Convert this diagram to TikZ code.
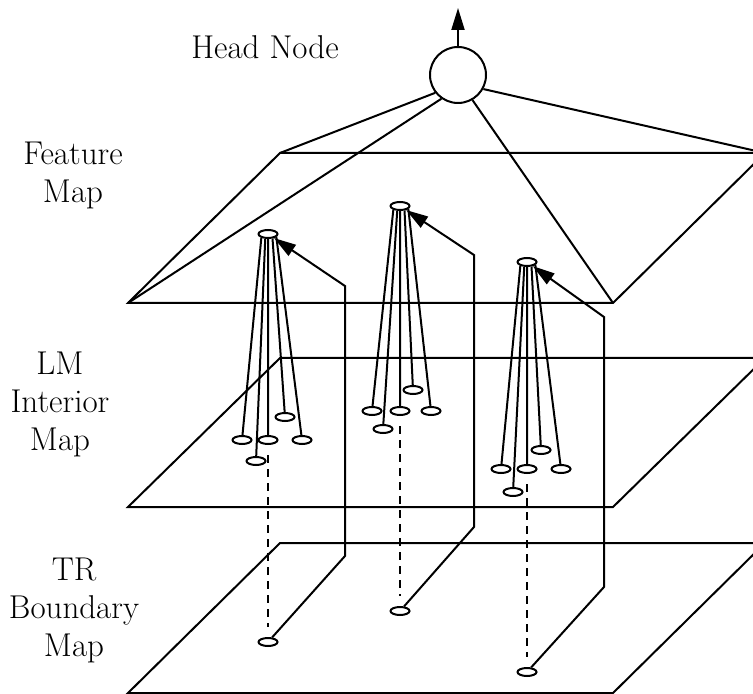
\documentclass[tikz,border=0pt]{standalone}
\usepackage{tikz}
\usetikzlibrary{arrows.meta,shapes.geometric}

\begin{document}
\begin{tikzpicture}[
  x=0.5pt, y=-0.5pt, line width=1pt,
  headnode/.style={circle, draw, minimum size=28pt, inner sep=0pt},
  cell/.style={ellipse, draw, minimum width=9.5pt, minimum height=4pt, inner sep=0pt},
  maplabel/.style={align=center, inner sep=0pt, font=\fontsize{16.5}{19}\selectfont},
  feed/.style={-{Triangle[length=11pt,width=6.5pt]}},
  proj/.style={dash pattern=on 4pt off 3pt, shorten <=5pt, shorten >=5pt}
]
\clip (0,0) rectangle (753,694);
\coordinate (fsw) at (128,303); \coordinate (fse) at (613,303);
\coordinate (fne) at (765,153); \coordinate (fnw) at (280,153);
\coordinate (isw) at (128,507); \coordinate (ise) at (613,507);
\coordinate (ine) at (765,358); \coordinate (inw) at (280,358);
\coordinate (bsw) at (128,693); \coordinate (bse) at (613,693);
\coordinate (bne) at (765,543); \coordinate (bnw) at (280,543);
\draw (fsw) -- (fse) -- (fne) -- (fnw) -- cycle;
\draw (isw) -- (ise) -- (ine) -- (inw) -- cycle;
\draw (bsw) -- (bse) -- (bne) -- (bnw) -- cycle;
\node[maplabel] (headlbl) at (265,47) {Head Node};
\node[maplabel] (featlbl) at (73,175) {Feature\\Map};
\node[maplabel] (intlbl) at (60,404) {LM\\Interior\\Map};
\node[maplabel] (bndlbl) at (74,610) {TR\\Boundary\\Map};
\node[headnode] (head) at (458,75) {};
\coordinate (out) at (458,8);
\node[cell] (f1) at (268,234) {};
\node[cell] (f2) at (400,206) {};
\node[cell] (f3) at (527,262) {};
\node[cell] (l1a) at (242,440) {};
\node[cell] (l1b) at (256,461) {};
\node[cell] (l1c) at (268,440) {};
\node[cell] (l1d) at (285,417) {};
\node[cell] (l1e) at (302,440) {};
\node[cell] (l2a) at (372,411) {};
\node[cell] (l2b) at (383,429) {};
\node[cell] (l2c) at (400,411) {};
\node[cell] (l2d) at (413,390) {};
\node[cell] (l2e) at (431,411) {};
\node[cell] (l3a) at (501,469) {};
\node[cell] (l3b) at (513,492) {};
\node[cell] (l3c) at (527,469) {};
\node[cell] (l3d) at (541,450) {};
\node[cell] (l3e) at (561,469) {};
\node[cell] (b1) at (268,642) {};
\node[cell] (b2) at (400,611) {};
\node[cell] (b3) at (527,672) {};
\draw[feed] (head) -- (out);
\draw (head.218) -- (fnw) (head.235) -- (fsw) (head.-29) -- (fne) (head.-60) -- (fse);
\draw (f1.-150) -- (l1a) (f1.-120) -- (l1b) (f1.-90) -- (l1c) (f1.-45) -- (l1d) (f1.-20) -- (l1e);
\draw (f2.-150) -- (l2a) (f2.-120) -- (l2b) (f2.-90) -- (l2c) (f2.-45) -- (l2d) (f2.-20) -- (l2e);
\draw (f3.-150) -- (l3a) (f3.-120) -- (l3b) (f3.-90) -- (l3c) (f3.-45) -- (l3d) (f3.-20) -- (l3e);
\draw[proj] (l1c) -- (b1);
\draw[proj] (l2c) -- (b2);
\draw[proj] (l3c) -- (b3);
\draw[feed] (b1) -- (345,556) -- (345,286) -- (f1);
\draw[feed] (b2) -- (474,527) -- (474,255) -- (f2);
\draw[feed] (b3) -- (604,587) -- (604,317) -- (f3);
\end{tikzpicture}
\end{document}
